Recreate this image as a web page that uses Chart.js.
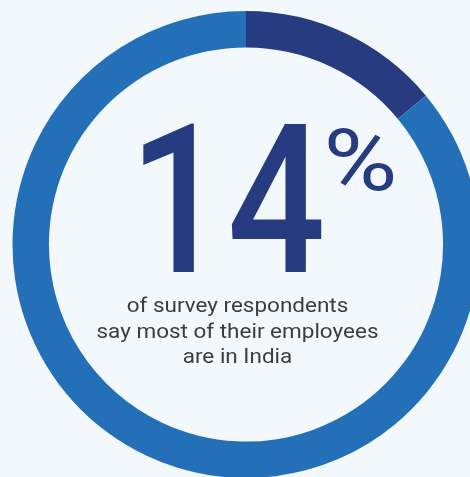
<!DOCTYPE html>
<html>
<head>
<meta charset="utf-8">
<script src="https://cdn.jsdelivr.net/npm/chart.js@4.4.1/dist/chart.umd.min.js"></script>
<style>
  html, body { margin: 0; padding: 0; width: 470px; height: 477px; overflow: hidden; background: #f2f8fc; }
  #wrap { position: absolute; left: 12px; top: 11px; width: 468px; height: 467px; }
</style>
</head>
<body>
<div id="wrap"><canvas id="india-chart" width="468" height="467"></canvas></div>
<script>
const segments = ['Most employees in India', 'Other respondents'];
const shares = [14, 86];
const segmentColors = ['#263b80', '#2470b8'];
const captionLines = ['of survey respondents', 'say most of their employees', 'are in India'];

// squeeze/stretch a string so its ink fills the given box
function fitText(ctx, text, font, left, top, width, height) {
  ctx.font = font;
  ctx.textAlign = 'left';
  ctx.textBaseline = 'alphabetic';
  const m = ctx.measureText(text);
  const inkW = m.actualBoundingBoxLeft + m.actualBoundingBoxRight;
  const inkH = m.actualBoundingBoxAscent + m.actualBoundingBoxDescent;
  ctx.save();
  ctx.translate(left, top);
  ctx.scale(width / inkW, height / inkH);
  ctx.fillText(text, m.actualBoundingBoxLeft, m.actualBoundingBoxAscent);
  ctx.restore();
}

const centerText = {
  id: 'centerText',
  afterDraw(chart) {
    const ctx = chart.ctx;
    const arc = chart.getDatasetMeta(0).data[0];
    const cx = arc.x;
    const cy = arc.y;

    ctx.save();
    ctx.fillStyle = segmentColors[0];
    fitText(ctx, String(shares[0]), '500 210px Roboto', cx - 103, cy - 121.5, 179, 149);
    fitText(ctx, '%', '400 90px Roboto', cx + 82, cy - 117.5, 65, 64);

    // caption block, widened a little so the longest line spans ~282px
    ctx.fillStyle = '#3d3d3d';
    ctx.font = '21px Roboto';
    ctx.textAlign = 'center';
    ctx.textBaseline = 'alphabetic';
    const widest = Math.max(...captionLines.map(l => ctx.measureText(l).width));
    const sx = 282 / widest;
    ctx.translate(cx - 8.5, 0);
    ctx.scale(sx, 1);
    captionLines.forEach((line, i) => {
      ctx.fillText(line, 0, cy + 67.5 + i * 25.5);
    });
    ctx.restore();
  }
};

new Chart(document.getElementById('india-chart').getContext('2d'), {
  type: 'doughnut',
  data: {
    labels: segments,
    datasets: [{
      data: shares,
      backgroundColor: segmentColors,
      borderWidth: 0,
      hoverOffset: 0
    }]
  },
  options: {
    responsive: false,
    animation: false,
    cutout: '84.4%',
    layout: { padding: 0 },
    plugins: {
      legend: { display: false },
      tooltip: { enabled: false }
    }
  },
  plugins: [centerText]
});
</script>
</body>
</html>
